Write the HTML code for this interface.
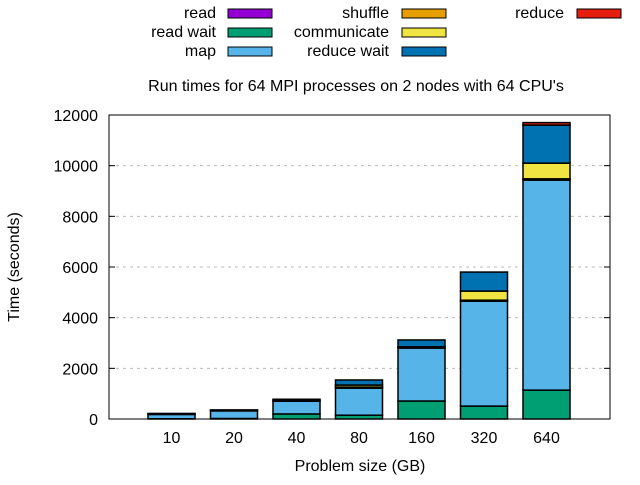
<!DOCTYPE html>
<html><head><meta charset="utf-8"><style>
body{margin:0;background:#fff;}
svg text{font-family:"Liberation Sans",sans-serif;font-size:16px;fill:#000;}
</style></head><body>
<svg width="640" height="480" id="svg">
<text x="356" y="91" text-anchor="middle">Run times for 64 MPI processes on 2 nodes with 64 CPU's</text>
<text x="19" y="267" text-anchor="middle" transform="rotate(-90 19 267)">Time (seconds)</text>
<text x="360" y="471" text-anchor="middle">Problem size (GB)</text>
<g id="grid"></g><g id="ticks"></g><g id="bars"></g><g id="axes"></g><g id="legend"></g>
</svg>
<script>
const categories=["10","20","40","80","160","320","640"];
const seriesNames=["read","read wait","map","shuffle","communicate","reduce wait","reduce"];
const colors=["#9400d3","#009e73","#56b4e9","#e69f00","#f0e442","#0072b2","#e51e10"];
const readV=[0,0,0,0,0,0,0];
const readWait=[10,20,200,150,710,510,1140];
const mapV=[170,300,500,1070,2090,4140,8290];
const shuffle=[20,20,40,40,40,40,50];
const communicate=[0,0,0,80,10,360,620];
const reduceWait=[20,20,40,200,270,750,1500];
const reduceV=[0,0,0,0,0,0,100];
const yTicks=[0,2000,4000,6000,8000,10000,12000];
const series=[readV,readWait,mapV,shuffle,communicate,reduceWait,reduceV];
const L=109,R=610,T=115,B=419,yMax=12000,step=62.5,bw=47;
const y=v=>B-v/yMax*(B-T);
const x=i=>L+step*(i+1);
const NS="http://www.w3.org/2000/svg";
function mk(tag,attrs,parent){const e=document.createElementNS(NS,tag);for(const k in attrs)e.setAttribute(k,attrs[k]);parent.appendChild(e);return e;}
const grid=document.getElementById('grid'),ticks=document.getElementById('ticks'),bars=document.getElementById('bars'),axes=document.getElementById('axes'),leg=document.getElementById('legend');
yTicks.forEach(t=>{
 if(t>0&&t<yMax){const g=mk('line',{x1:L,x2:R,y1:y(t),y2:y(t),stroke:'#bbb','stroke-dasharray':'3,4'},grid);
 
 }
 mk('line',{x1:L,x2:L+6,y1:y(t),y2:y(t),stroke:'#000'},ticks);
 mk('line',{x1:R,x2:R-6,y1:y(t),y2:y(t),stroke:'#000'},ticks);
 const tx=mk('text',{x:L-11,y:y(t)+6,'text-anchor':'end'},axes);tx.textContent=t;
 
 
});
categories.forEach((c,i)=>{
 let acc=0;
 series.forEach((s,k)=>{
  const v=s[i];if(v<=0)return;
  const r=mk('rect',{x:x(i)-bw/2,y:y(acc+v),width:bw,height:y(acc)-y(acc+v),fill:colors[k],stroke:'#000','stroke-width':1.5},bars);
  
  
  acc+=v;
 });
 mk('line',{x1:x(i),x2:x(i),y1:B,y2:B-6,stroke:'#000'},ticks);
 const tx=mk('text',{x:x(i),y:B+24,'text-anchor':'middle'},axes);tx.textContent=c;
 
 
});
const fr=mk('rect',{x:L,y:T,width:R-L,height:B-T,fill:'none',stroke:'#000'},axes);


const lx=[216,389,564],sx=[228,402,577],ly=[13,32,51];
seriesNames.forEach((n,k)=>{
 const col=Math.floor(k/3),row=k%3;
 const t=mk('text',{x:lx[col],y:ly[row]+5,'text-anchor':'end'},leg);t.textContent=n;
 
 
 const r=mk('rect',{x:sx[col],y:ly[row]-4,width:44,height:9,fill:colors[k],stroke:'#000'},leg);
 
 
});
</script>
</body></html>
